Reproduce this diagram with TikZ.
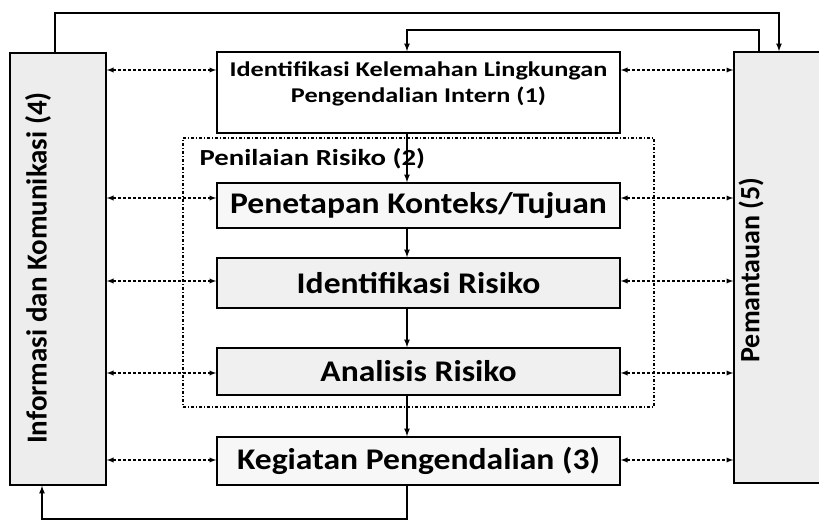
\documentclass[tikz,border=0pt]{standalone}
\usepackage{fontspec}
\setmainfont{Carlito}
\newfontfamily\widefont[FakeStretch=1.12]{Carlito}
\newfontfamily\widerfont[FakeStretch=1.25]{Carlito}
\usetikzlibrary{calc}

\begin{document}
\begin{tikzpicture}[x=1pt, y=-1pt, >=latex,
      side/.style={draw, line width=1.6pt, fill=gray!14, inner sep=0pt},
      stage/.style={draw, line width=1.6pt, minimum width=403pt, inner sep=0pt, font=\widefont\bfseries\fontsize{30}{32}\selectfont},
      group/.style={draw, line width=1.2pt, dash pattern=on 3pt off 2pt on 1pt off 2pt, minimum width=471pt, minimum height=269pt, inner sep=0pt},
      link/.style={<->, dash pattern=on 3pt off 2pt, line width=1.3pt},
      flow/.style={->, line width=1.6pt}
    ]

    \useasboundingbox (0,0) rectangle (819,521);
    \clip (0,0) rectangle (819,521);

    \node[group] (nilai) at (418.5,272.5) {};
    \node[anchor=west, font=\widerfont\bfseries\fontsize{23}{25}\selectfont] (nilaitext) at (196,159) {Penilaian Risiko (2)};

    \node[side, minimum width=96pt, minimum height=432pt] (info) at (58,269) {};
    \node[side, minimum width=96pt, minimum height=431pt] (pantau) at (782,267.5) {};
    \node[rotate=90, font=\bfseries\fontsize{29}{31}\selectfont] (infotext) at (38,268) {Informasi dan Komunikasi (4)};
    \node[rotate=90, font=\bfseries\fontsize{28}{30}\selectfont] (pantautext) at (751,270) {Pemantauan (5)};

    \node[stage, minimum height=81pt, fill=white] (ident) at (418.5,92.5) {};
    \node[anchor=north, align=center, font=\widerfont\bfseries\fontsize{21}{26}\selectfont] (identtext) at (418.5,58) {Identifikasi Kelemahan Lingkungan\\Pengendalian Intern (1)};
    \node[stage, minimum height=45pt, fill=gray!6] (tujuan) at (418.5,205.5) {Penetapan Konteks/Tujuan};
    \node[stage, minimum height=50pt, fill=gray!12] (risk) at (418.5,283) {Identifikasi Risiko};
    \node[stage, minimum height=47pt, fill=gray!12] (anal) at (418.5,371.5) {Analisis Risiko};
    \node[stage, minimum height=48pt, fill=gray!6] (kegiatan) at (418.5,461) {Kegiatan Pengendalian (3)};

    \draw[flow] (ident.south -| 407,0) -- (tujuan.north -| 407,0);
    \draw[flow] (tujuan.south -| 407,0) -- (risk.north -| 407,0);
    \draw[flow] (risk.south -| 407,0) -- (anal.north -| 407,0);
    \draw[flow] (anal.south -| 407,0) -- (kegiatan.north -| 407,0);

    \draw[flow] (info.north -| 55,0) |- (779,13) -- (pantau.north -| 779,0);
    \draw[flow] (pantau.north -| 759,0) |- (407,30) -- (ident.north -| 407,0);
    \draw[flow] (kegiatan.south -| 407,0) |- (42,519) -- (info.south -| 42,0);

    \foreach \b/\y in {ident/70, tujuan/198, risk/281, anal/373, kegiatan/460} {
      \draw[link] (info.east |- 0,\y) -- (\b.west |- 0,\y);
      \draw[link] (\b.east |- 0,\y) -- (pantau.west |- 0,\y);
    }
  \end{tikzpicture}
\end{document}
